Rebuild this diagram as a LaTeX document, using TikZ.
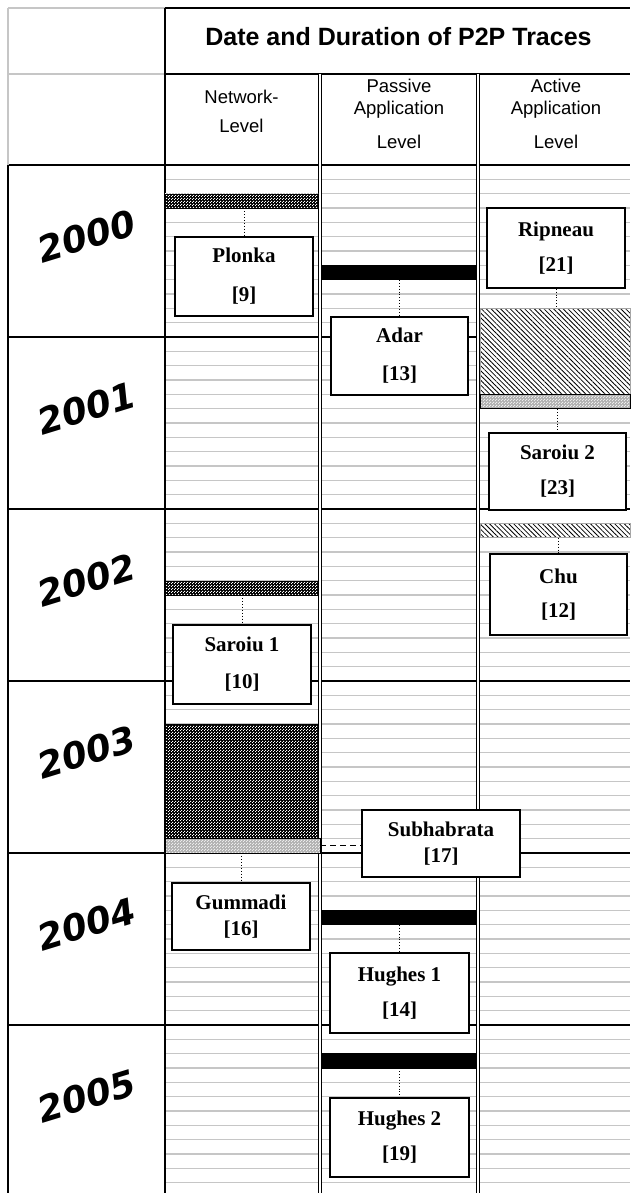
\documentclass[tikz,border=0pt]{standalone}
\usepackage{fontspec}
\setmainfont{Liberation Serif}
\newfontfamily\hdrfont{Liberation Sans}
\newfontfamily\yearfont{DejaVu Sans}
\usetikzlibrary{patterns,patterns.meta,fit}
\pgfdeclarepatternformonly{dotcheck}{\pgfqpoint{0pt}{0pt}}{\pgfqpoint{3pt}{3pt}}{\pgfqpoint{3pt}{3pt}}{%
  \pgfpathrectangle{\pgfqpoint{0pt}{0pt}}{\pgfqpoint{1.3pt}{1.3pt}}%
  \pgfpathrectangle{\pgfqpoint{1.5pt}{1.5pt}}{\pgfqpoint{1.3pt}{1.3pt}}%
  \pgfusepath{fill}}
\begin{document}
\begin{tikzpicture}[x=1pt,y=-1pt,
  month/.style={draw=gray!45, line width=1.4pt},
  yearline/.style={draw=black, line width=1.1pt},
  frame/.style={draw=black, line width=1.1pt},
  lightframe/.style={draw=gray!45, line width=1.1pt},
  dbl/.style={draw=black, double=white, double distance=2.6pt, line width=1.1pt},
  cbar/.style={draw=black, line width=0.8pt, preaction={fill=black}, pattern=dotcheck, pattern color=white, inner sep=0pt},
  lbar/.style={draw=black, line width=0.8pt, preaction={fill=gray!60}, pattern=dotcheck, pattern color=gray!15, inner sep=0pt},
  hbar/.style={draw=gray!70, line width=0.5pt, preaction={fill=white}, pattern={Lines[angle=-45,distance=3.4pt,line width=0.8pt]}, inner sep=0pt},
  sbar/.style={draw=black, fill=black, line width=0.5pt, inner sep=0pt},
  refbox/.style={draw=black, line width=1.4pt, fill=white, align=center, inner sep=0pt},
  lsp/.style={font=\bfseries\fontsize{21}{#1}\selectfont},
  yearlbl/.style={text=black, font=\yearfont\bfseries\itshape\fontsize{36}{40}\selectfont, rotate=17, inner sep=0pt},
  hdr/.style={font=\hdrfont\fontsize{18.5}{#1}\selectfont, align=center, inner sep=0pt},
  conn/.style={draw=black, dotted, line width=0.9pt},
  dconn/.style={draw=black, dash pattern=on 6pt off 4pt, line width=1pt}
]
\useasboundingbox (0,0) rectangle (630,1193);
\fill[white] (0,0) rectangle (630,1193);

% years
\node[yearlbl] (y2000) at (87,236) {2000};
\node[yearlbl] (y2001) at (87,408) {2001};
\node[yearlbl] (y2002) at (87,580) {2002};
\node[yearlbl] (y2003) at (87,752) {2003};
\node[yearlbl] (y2004) at (87,924) {2004};
\node[yearlbl] (y2005) at (87,1096) {2005};

% month lines
\foreach \k in {0,...,5}{
  \foreach \m in {1,...,11}{
    \draw[month] (165,{165+172*\k+14.3333*\m}) -- (630,{165+172*\k+14.3333*\m});
  }
}

% year lines
\foreach \k in {0,...,5}{
  \draw[yearline] (8,{165+172*\k}) -- (630,{165+172*\k});
}

% frame
\draw[lightframe] (8,8) -- (165,8) (8,8) -- (8,165) (8,74) -- (165,74);
\draw[frame] (165,8) -- (630,8) (165,74) -- (630,74);
\draw[frame] (8,165) -- (8,1193);
\draw[frame] (165,8) -- (165,1193);
\draw[dbl] (320,74) -- (320,1193);
\draw[dbl] (478,74) -- (478,1193);

% headers
\node[font=\hdrfont\bfseries\fontsize{25}{29}\selectfont, inner sep=0pt] (title) at (398.5,37) {Date and Duration of P2P Traces};
\node[hdr=29] (hnet) at (241.5,111.5) {Network-\\Level};
\node[hdr=22] (hpas) at (399,114) {Passive\\Application\\[12pt]Level};
\node[hdr=22] (hact) at (556,114) {Active\\Application\\[12pt]Level};

% bars
\node[cbar, fit={(165,194) (318,208)}] (plonkabar) {};
\node[sbar, fit={(322,265.33) (476,279.67)}] (adarbar) {};
\node[hbar, fit={(480,308.33) (630,394.33)}] (ripbar) {};
\node[lbar, fit={(480,394.33) (630,408.67)}] (s2bar) {};
\node[hbar, fit={(480,523.33) (630,537.67)}] (chubar) {};
\node[cbar, fit={(165,581) (318,595)}] (s1bar) {};
\node[cbar, fit={(165,724) (318,838)}] (gbigbar) {};
\node[lbar, fit={(165,838.67) (320,853)}] (gbar) {};
\node[sbar, fit={(322,910.33) (476,924.67)}] (h1bar) {};
\node[sbar, fit={(322,1053.67) (476,1068)}] (h2bar) {};

% boxes
\node[refbox, lsp=39, minimum width=138, minimum height=79] (plonka) at (244,276.5) {Plonka\\{}[9]};
\node[refbox, lsp=38, minimum width=137, minimum height=78] (adar) at (399.5,356) {Adar\\{}[13]};
\node[refbox, lsp=35, minimum width=138, minimum height=80] (ripneau) at (556,248) {Ripneau\\{}[21]};
\node[refbox, lsp=35, minimum width=137, minimum height=77] (saroiu2) at (557.5,471.5) {Saroiu 2\\{}[23]};
\node[refbox, lsp=34, minimum width=137, minimum height=81] (chu) at (558.5,594.5) {Chu\\{}[12]};
\node[refbox, lsp=37, minimum width=138, minimum height=79] (saroiu1) at (242,664.5) {Saroiu 1\\{}[10]};
\node[refbox, lsp=26, minimum width=158, minimum height=67] (subh) at (441,843.5) {Subhabrata\\{}[17]};
\node[refbox, lsp=26, minimum width=138, minimum height=67] (gummadi) at (241,916.5) {Gummadi\\{}[16]};
\node[refbox, lsp=35, minimum width=139, minimum height=80] (hughes1) at (399.5,993) {Hughes 1\\{}[14]};
\node[refbox, lsp=35, minimum width=139, minimum height=79] (hughes2) at (399.5,1137.5) {Hughes 2\\{}[19]};

% connectors
\draw[conn] (plonkabar.south -| plonka.north) -- (plonka.north);
\draw[conn] (adarbar.south -| adar.north) -- (adar.north);
\draw[conn] (ripneau.south) -- (ripneau.south |- ripbar.north);
\draw[conn] (s2bar.south -| saroiu2.north) -- (saroiu2.north);
\draw[conn] (chubar.south -| chu.north) -- (chu.north);
\draw[conn] (s1bar.south -| saroiu1.north) -- (saroiu1.north);
\draw[dconn] (gbar.east) -- (gbar.east -| subh.west);
\draw[conn] (gbar.south -| gummadi.north) -- (gummadi.north);
\draw[conn] (h1bar.south -| hughes1.north) -- (hughes1.north);
\draw[conn] (h2bar.south -| hughes2.north) -- (hughes2.north);
\end{tikzpicture}
\end{document}
